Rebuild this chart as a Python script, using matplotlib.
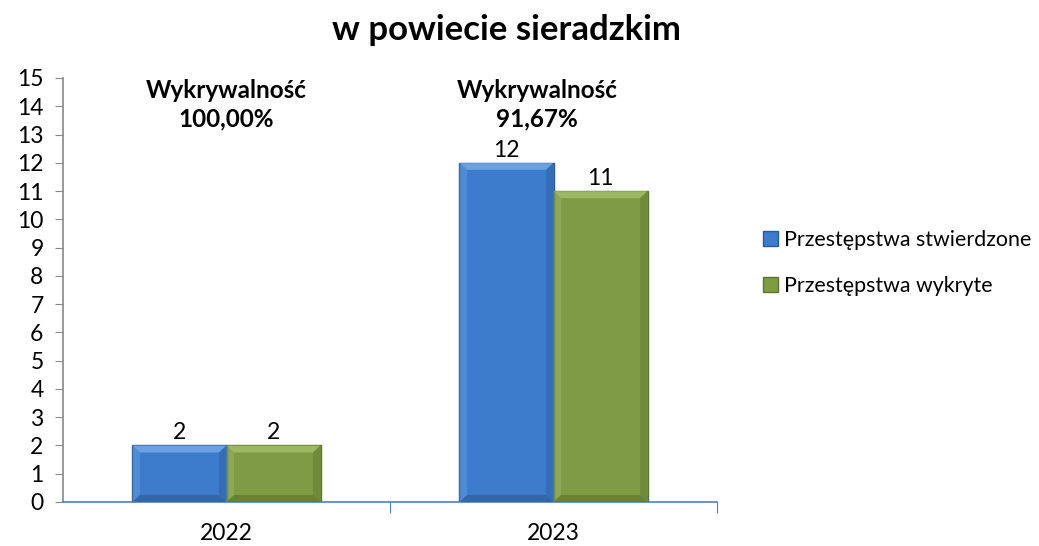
import matplotlib
matplotlib.use("Agg")
import matplotlib.pyplot as plt
import numpy as np
from matplotlib.patches import Polygon

plt.rcParams['font.family'] = ['Lato', 'DejaVu Sans']

years = ['2022', '2023']
stwierdzone = [2, 12]
wykryte = [2, 11]
wykrywalnosc = ['100,00%', '91,67%']
series_names = ['Przestępstwa stwierdzone', 'Przestępstwa wykryte']
title = 'w powiecie sieradzkim'

fig = plt.figure(figsize=(10.39, 5.46), dpi=100)
ax = fig.add_axes([63/1039, 44/546, (717-63)/1039, (502-78)/546])

x = np.arange(len(years))
w = 0.2875
colors = ['#3d7ccc', '#7f9c45']
edges = ['#2a5a9a', '#5b7330']
lights = ['#7fb0ea', '#a9c471']
darks = ['#2c5f9e', '#5e7631']

def bevel(ax, rect, light, dark):
    x0, y0 = rect.get_x(), rect.get_y()
    bw, bh = rect.get_width(), rect.get_height()
    dx = bw * 0.08
    dy = min(0.25, bh * 0.2)
    x1 = x0 + bw
    y1 = y0 + bh
    polys = [
        ([(x0, y1), (x1, y1), (x1 - dx, y1 - dy), (x0 + dx, y1 - dy)], light, 0.7),
        ([(x0, y0), (x1, y0), (x1 - dx, y0 + dy), (x0 + dx, y0 + dy)], dark, 0.7),
        ([(x1, y0), (x1, y1), (x1 - dx, y1 - dy), (x1 - dx, y0 + dy)], dark, 0.45),
        ([(x0, y0), (x0, y1), (x0 + dx, y1 - dy), (x0 + dx, y0 + dy)], light, 0.3),
    ]
    for pts, c, a in polys:
        ax.add_patch(Polygon(pts, closed=True, facecolor=c, edgecolor='none', alpha=a, zorder=3))

for i, (vals, name) in enumerate(zip([stwierdzone, wykryte], series_names)):
    bars = ax.bar(x + (i - 0.5) * w, vals, width=w, color=colors[i], edgecolor=edges[i],
                  linewidth=1.0, label=name, zorder=2)
    for b, v in zip(bars, vals):
        bevel(ax, b, lights[i], darks[i])
        ax.text(b.get_x() + b.get_width() / 2, v + 0.08, str(v), ha='center', va='bottom',
                fontsize=16.5, color='black')

for xi, pct in zip(x, wykrywalnosc):
    ax.text(xi - (0.05 if xi == 1 else 0), 14.05, 'Wykrywalność\n' + pct, ha='center', va='center',
            fontsize=17.5, fontweight='bold', linespacing=1.3)

ax.set_xlim(-0.5, 1.5)
ax.set_ylim(0, 15)
ax.set_yticks(range(0, 16))
ax.tick_params(axis='y', labelsize=16.5, length=6, color='#888888', direction='out', pad=8)
ax.set_xticks([0.5, 1.5], minor=False)
ax.set_xticklabels([])
ax.set_xticks(x, labels=years, minor=True)
ax.tick_params(axis='x', which='major', length=8, color='#4f81bd', direction='out')
ax.tick_params(axis='x', which='minor', length=0, labelsize=16.5, pad=15)

for s in ['top', 'right']:
    ax.spines[s].set_visible(False)
ax.spines['left'].set_color('#888888')
ax.spines['left'].set_linewidth(1.2)
ax.spines['bottom'].set_color('#4f81bd')
ax.spines['bottom'].set_linewidth(1.2)

fig.text(507/1039, 1 - 30/546, title, ha='center', va='center', fontsize=25, fontweight='bold')

leg = fig.legend(loc='center left', bbox_to_anchor=(763/1039, 1 - 263/546), frameon=False,
                 fontsize=15.4, handlelength=0.7, handleheight=0.7, labelspacing=1.2,
                 handletextpad=0.3, borderpad=0, borderaxespad=0)

fig.savefig('out.png', dpi=100)
